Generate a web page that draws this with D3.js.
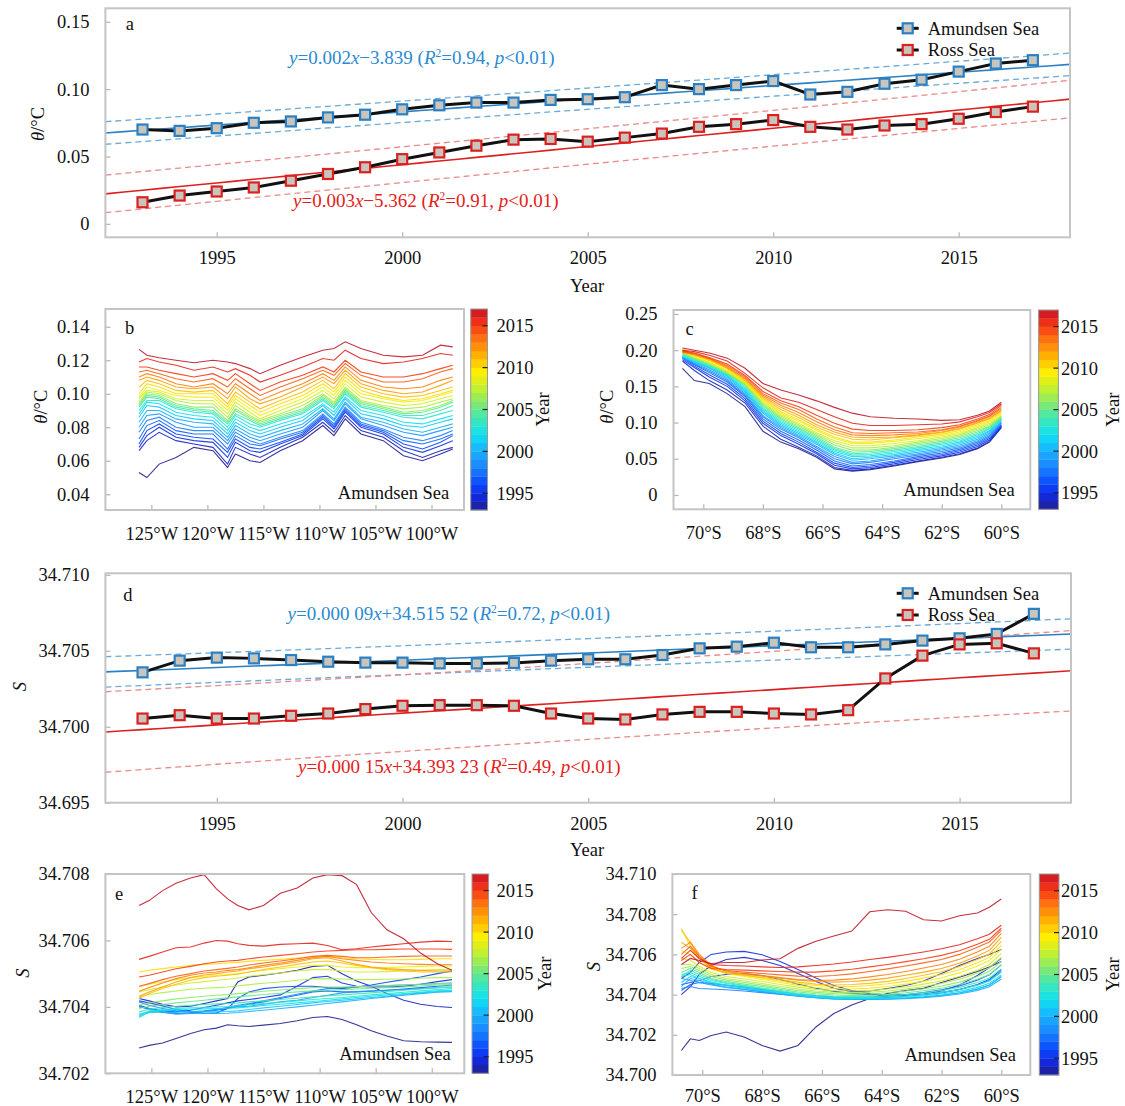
<!DOCTYPE html>
<html>
<head>
<meta charset="utf-8">
<script src="https://cdn.jsdelivr.net/npm/d3@7"></script>
<style>
  body { margin: 0; background: #fff; }
  svg text { font-family: "Liberation Serif", "Times New Roman", serif; }
</style>
</head>
<body>
<svg id="fig" width="1125" height="1106"></svg>
<script>
// ---------------- data ----------------
const years = [1993, 1994, 1995, 1996, 1997, 1998, 1999, 2000, 2001, 2002, 2003, 2004, 2005,
               2006, 2007, 2008, 2009, 2010, 2011, 2012, 2013, 2014, 2015, 2016, 2017];

// (a) annual mean potential temperature, °C
const amundsenTheta = [0.070, 0.069, 0.071, 0.075, 0.076, 0.079, 0.081, 0.085, 0.088, 0.090, 0.090, 0.092, 0.0925,
                       0.094, 0.103, 0.100, 0.103, 0.106, 0.096, 0.098, 0.104, 0.107, 0.113, 0.119, 0.1215];
const rossTheta     = [0.016, 0.021, 0.024, 0.027, 0.032, 0.037, 0.042, 0.048, 0.053, 0.058, 0.0625, 0.063, 0.061,
                       0.064, 0.067, 0.072, 0.074, 0.077, 0.072, 0.070, 0.073, 0.074, 0.078, 0.083, 0.087];

// (d) annual mean salinity
const amundsenSal = [34.70358, 34.70435, 34.70455, 34.70450, 34.70439, 34.70428, 34.70422, 34.70422, 34.70417, 34.70417,
                     34.70420, 34.70435, 34.70444, 34.70444, 34.70472, 34.70516, 34.70527, 34.70553, 34.70523, 34.70523,
                     34.70542, 34.70567, 34.70582, 34.70611, 34.70743];
const rossSal     = [34.70054, 34.70076, 34.70054, 34.70054, 34.70072, 34.70087, 34.70116, 34.70138, 34.70142, 34.70142,
                     34.70138, 34.70087, 34.70054, 34.70048, 34.70081, 34.70098, 34.70098, 34.70087, 34.70081, 34.70109,
                     34.70318, 34.70468, 34.70542, 34.70549, 34.70483];

// (b) theta along longitude (negative = °W), one row per year 1993..2017
const lonB = [-126.1, -125.4, -124.3, -122.8, -121.2, -119.5, -118.2, -117.5, -116.2, -115.3, -113.5,
              -111.5, -109.7, -108.7, -107.7, -106.3, -104.3, -102.5, -100.8, -99.2, -98.1];
const thetaByLon = [
  [0.053,0.050,0.058,0.062,0.068,0.066,0.056,0.064,0.060,0.059,0.066,0.072,0.081,0.075,0.085,0.076,0.072,0.063,0.060,0.064,0.067],
  [0.066,0.072,0.077,0.072,0.070,0.068,0.058,0.068,0.064,0.062,0.068,0.074,0.083,0.077,0.087,0.078,0.074,0.066,0.062,0.066,0.068],
  [0.068,0.075,0.080,0.074,0.072,0.071,0.062,0.071,0.066,0.065,0.070,0.075,0.085,0.079,0.089,0.080,0.076,0.068,0.065,0.069,0.072],
  [0.070,0.078,0.082,0.076,0.074,0.073,0.065,0.073,0.068,0.067,0.071,0.076,0.086,0.080,0.090,0.081,0.077,0.070,0.067,0.071,0.075],
  [0.073,0.081,0.084,0.078,0.076,0.076,0.067,0.075,0.070,0.069,0.073,0.077,0.087,0.081,0.091,0.082,0.078,0.072,0.070,0.073,0.076],
  [0.077,0.084,0.086,0.080,0.078,0.078,0.070,0.077,0.072,0.070,0.074,0.078,0.088,0.082,0.092,0.083,0.079,0.074,0.072,0.075,0.078],
  [0.080,0.087,0.088,0.083,0.080,0.080,0.072,0.079,0.074,0.072,0.076,0.080,0.090,0.084,0.094,0.085,0.081,0.077,0.075,0.078,0.080],
  [0.083,0.090,0.090,0.085,0.083,0.082,0.074,0.081,0.076,0.074,0.078,0.082,0.091,0.085,0.095,0.086,0.083,0.079,0.077,0.080,0.082],
  [0.086,0.093,0.092,0.087,0.085,0.084,0.076,0.083,0.078,0.076,0.080,0.084,0.093,0.087,0.097,0.088,0.085,0.081,0.080,0.083,0.085],
  [0.088,0.095,0.094,0.089,0.087,0.086,0.078,0.085,0.080,0.078,0.082,0.086,0.094,0.089,0.098,0.090,0.087,0.083,0.082,0.085,0.087],
  [0.090,0.096,0.096,0.091,0.089,0.088,0.080,0.087,0.082,0.080,0.084,0.088,0.096,0.091,0.100,0.092,0.089,0.086,0.085,0.088,0.090],
  [0.092,0.098,0.097,0.092,0.090,0.089,0.082,0.088,0.084,0.081,0.085,0.089,0.097,0.092,0.101,0.093,0.090,0.087,0.087,0.090,0.093],
  [0.093,0.099,0.098,0.093,0.091,0.090,0.083,0.090,0.085,0.082,0.086,0.090,0.098,0.093,0.102,0.094,0.091,0.088,0.089,0.092,0.095],
  [0.094,0.100,0.099,0.094,0.092,0.092,0.084,0.091,0.086,0.083,0.087,0.091,0.099,0.094,0.103,0.095,0.092,0.089,0.090,0.093,0.096],
  [0.095,0.101,0.100,0.096,0.094,0.094,0.086,0.093,0.087,0.084,0.088,0.093,0.100,0.095,0.104,0.096,0.093,0.091,0.092,0.095,0.097],
  [0.097,0.102,0.101,0.097,0.096,0.096,0.088,0.095,0.089,0.085,0.090,0.095,0.102,0.097,0.106,0.098,0.095,0.093,0.094,0.097,0.099],
  [0.098,0.104,0.102,0.099,0.098,0.098,0.090,0.097,0.091,0.087,0.092,0.097,0.104,0.099,0.108,0.100,0.097,0.095,0.096,0.099,0.101],
  [0.100,0.106,0.104,0.100,0.100,0.100,0.092,0.099,0.093,0.089,0.094,0.099,0.106,0.101,0.110,0.102,0.098,0.096,0.097,0.100,0.102],
  [0.104,0.108,0.106,0.102,0.101,0.102,0.094,0.101,0.095,0.091,0.096,0.101,0.108,0.103,0.112,0.104,0.100,0.098,0.099,0.102,0.104],
  [0.108,0.110,0.108,0.104,0.103,0.104,0.097,0.104,0.097,0.094,0.098,0.104,0.110,0.106,0.114,0.106,0.102,0.100,0.101,0.105,0.108],
  [0.110,0.112,0.110,0.106,0.104,0.106,0.100,0.106,0.100,0.096,0.101,0.106,0.112,0.108,0.116,0.108,0.104,0.103,0.104,0.108,0.110],
  [0.113,0.114,0.112,0.109,0.107,0.109,0.104,0.109,0.103,0.099,0.104,0.109,0.114,0.111,0.118,0.111,0.107,0.107,0.109,0.113,0.115],
  [0.116,0.116,0.114,0.112,0.110,0.112,0.108,0.112,0.106,0.102,0.107,0.111,0.116,0.113,0.120,0.113,0.110,0.110,0.112,0.115,0.117],
  [0.119,0.121,0.119,0.117,0.114,0.116,0.113,0.115,0.111,0.107,0.111,0.116,0.121,0.120,0.126,0.121,0.118,0.119,0.121,0.124,0.123],
  [0.1265,0.123,0.1215,0.120,0.1185,0.120,0.119,0.118,0.115,0.112,0.117,0.122,0.126,0.127,0.131,0.127,0.123,0.122,0.123,0.129,0.128]
];

// (c) theta along latitude (negative = °S), one row per year 1993..2017
const latC = [-70.7, -70.3, -69.8, -69.2, -68.6, -68.0, -67.4, -66.8, -66.2, -65.6, -65.0, -64.4,
              -63.6, -62.8, -62.0, -61.4, -60.8, -60.4, -60.0];
const thetaByLat = [
  [0.175,0.158,0.154,0.140,0.122,0.088,0.073,0.064,0.052,0.036,0.033,0.035,0.040,0.046,0.051,0.056,0.064,0.073,0.093],
  [0.185,0.172,0.158,0.145,0.127,0.095,0.077,0.066,0.054,0.038,0.034,0.036,0.041,0.047,0.052,0.057,0.065,0.074,0.094],
  [0.187,0.176,0.163,0.150,0.130,0.099,0.082,0.070,0.057,0.041,0.036,0.038,0.043,0.049,0.054,0.059,0.067,0.076,0.095],
  [0.189,0.178,0.166,0.153,0.133,0.102,0.085,0.073,0.059,0.044,0.038,0.040,0.045,0.051,0.056,0.061,0.069,0.078,0.096],
  [0.190,0.180,0.169,0.156,0.136,0.105,0.088,0.076,0.062,0.047,0.040,0.042,0.047,0.053,0.058,0.063,0.071,0.080,0.097],
  [0.191,0.181,0.171,0.158,0.138,0.108,0.091,0.079,0.065,0.050,0.043,0.045,0.050,0.055,0.060,0.065,0.073,0.082,0.099],
  [0.189,0.182,0.173,0.160,0.140,0.110,0.093,0.081,0.067,0.053,0.045,0.047,0.052,0.057,0.062,0.067,0.075,0.084,0.100],
  [0.190,0.183,0.175,0.162,0.142,0.113,0.095,0.083,0.070,0.056,0.048,0.050,0.054,0.059,0.064,0.069,0.077,0.086,0.101],
  [0.191,0.184,0.176,0.164,0.144,0.115,0.097,0.085,0.072,0.058,0.050,0.052,0.056,0.061,0.066,0.071,0.079,0.088,0.103],
  [0.192,0.185,0.177,0.165,0.146,0.117,0.099,0.087,0.074,0.060,0.053,0.054,0.058,0.063,0.068,0.073,0.081,0.089,0.104],
  [0.193,0.186,0.178,0.166,0.148,0.119,0.101,0.089,0.076,0.062,0.055,0.056,0.060,0.065,0.070,0.075,0.083,0.091,0.105],
  [0.194,0.187,0.179,0.167,0.150,0.121,0.103,0.091,0.078,0.064,0.057,0.058,0.062,0.067,0.072,0.077,0.085,0.092,0.106],
  [0.195,0.188,0.180,0.168,0.152,0.123,0.105,0.093,0.080,0.066,0.059,0.060,0.064,0.069,0.074,0.079,0.087,0.094,0.107],
  [0.196,0.189,0.181,0.169,0.153,0.125,0.107,0.095,0.082,0.069,0.062,0.062,0.066,0.071,0.076,0.081,0.089,0.095,0.108],
  [0.197,0.190,0.182,0.170,0.154,0.127,0.109,0.097,0.084,0.072,0.065,0.065,0.068,0.073,0.078,0.083,0.091,0.097,0.109],
  [0.198,0.191,0.183,0.171,0.155,0.129,0.111,0.099,0.086,0.075,0.068,0.068,0.071,0.075,0.080,0.085,0.093,0.099,0.110],
  [0.200,0.192,0.184,0.172,0.156,0.131,0.113,0.102,0.089,0.078,0.071,0.071,0.074,0.078,0.082,0.087,0.095,0.101,0.112],
  [0.202,0.194,0.186,0.174,0.157,0.132,0.115,0.104,0.091,0.080,0.073,0.073,0.076,0.080,0.084,0.089,0.097,0.103,0.114],
  [0.198,0.193,0.186,0.175,0.158,0.134,0.118,0.107,0.094,0.084,0.077,0.076,0.079,0.082,0.086,0.091,0.099,0.105,0.116],
  [0.200,0.195,0.188,0.176,0.160,0.136,0.121,0.110,0.097,0.087,0.080,0.079,0.080,0.083,0.087,0.092,0.100,0.106,0.117],
  [0.197,0.194,0.188,0.177,0.161,0.138,0.124,0.114,0.101,0.090,0.083,0.082,0.083,0.085,0.089,0.094,0.102,0.108,0.119],
  [0.198,0.195,0.189,0.179,0.163,0.140,0.127,0.118,0.105,0.094,0.086,0.085,0.086,0.087,0.090,0.095,0.103,0.109,0.121],
  [0.199,0.196,0.190,0.181,0.165,0.143,0.130,0.122,0.110,0.099,0.091,0.089,0.089,0.090,0.093,0.097,0.105,0.111,0.124],
  [0.200,0.198,0.193,0.185,0.168,0.148,0.134,0.128,0.118,0.108,0.099,0.096,0.096,0.097,0.098,0.101,0.108,0.114,0.126],
  [0.203,0.200,0.196,0.189,0.175,0.154,0.145,0.138,0.130,0.121,0.113,0.108,0.106,0.105,0.103,0.104,0.110,0.116,0.128]
];

// (e) salinity along longitude, one row per year 1993..2017
const lonE = [-126.1, -125.2, -124.0, -122.8, -121.5, -120.3, -119.2, -118.2, -117.3, -116.3, -115.0, -113.5,
              -112.0, -110.6, -109.3, -108.0, -106.7, -105.4, -104.0, -102.5, -101.0, -99.5, -98.2];
const salByLon = [
  [34.70276,34.70284,34.70291,34.70305,34.70320,34.70331,34.70336,34.70346,34.70343,34.70341,34.70345,34.70350,34.70358,34.70368,34.70371,34.70362,34.70346,34.70328,34.70312,34.70298,34.70295,34.70294,34.70293],
  [34.70425,34.70418,34.70408,34.70400,34.70402,34.70410,34.70418,34.70425,34.70475,34.70490,34.70495,34.70502,34.70510,34.70522,34.70525,34.70500,34.70478,34.70462,34.70440,34.70420,34.70408,34.70401,34.70398],
  [34.70405,34.70395,34.70388,34.70385,34.70390,34.70398,34.70405,34.70412,34.70418,34.70422,34.70428,34.70436,34.70462,34.70488,34.70492,34.70472,34.70462,34.70460,34.70460,34.70462,34.70468,34.70476,34.70482],
  [34.70418,34.70412,34.70403,34.70392,34.70385,34.70380,34.70382,34.70395,34.70425,34.70445,34.70455,34.70460,34.70462,34.70462,34.70458,34.70455,34.70460,34.70466,34.70474,34.70482,34.70490,34.70500,34.70508],
  [34.70402,34.70392,34.70383,34.70380,34.70382,34.70386,34.70390,34.70395,34.70402,34.70408,34.70415,34.70425,34.70435,34.70445,34.70448,34.70445,34.70445,34.70447,34.70450,34.70454,34.70458,34.70462,34.70466],
  [34.70415,34.70405,34.70395,34.70388,34.70385,34.70388,34.70392,34.70398,34.70405,34.70410,34.70418,34.70428,34.70438,34.70448,34.70455,34.70458,34.70460,34.70462,34.70464,34.70466,34.70468,34.70470,34.70472],
  [34.70400,34.70395,34.70385,34.70378,34.70380,34.70385,34.70392,34.70398,34.70400,34.70402,34.70408,34.70415,34.70420,34.70428,34.70435,34.70442,34.70446,34.70448,34.70450,34.70452,34.70455,34.70458,34.70460],
  [34.70378,34.70385,34.70384,34.70382,34.70381,34.70380,34.70380,34.70381,34.70383,34.70386,34.70390,34.70395,34.70400,34.70405,34.70410,34.70415,34.70420,34.70425,34.70430,34.70435,34.70440,34.70444,34.70446],
  [34.70372,34.70383,34.70388,34.70388,34.70386,34.70385,34.70385,34.70386,34.70388,34.70392,34.70397,34.70402,34.70407,34.70412,34.70416,34.70420,34.70424,34.70428,34.70432,34.70437,34.70442,34.70446,34.70448],
  [34.70368,34.70385,34.70390,34.70392,34.70393,34.70394,34.70395,34.70396,34.70397,34.70400,34.70404,34.70408,34.70412,34.70416,34.70420,34.70424,34.70428,34.70432,34.70436,34.70440,34.70444,34.70448,34.70450],
  [34.70375,34.70388,34.70392,34.70395,34.70397,34.70398,34.70400,34.70401,34.70403,34.70406,34.70410,34.70414,34.70418,34.70422,34.70425,34.70428,34.70432,34.70436,34.70440,34.70444,34.70448,34.70452,34.70455],
  [34.70385,34.70393,34.70398,34.70402,34.70405,34.70407,34.70409,34.70410,34.70412,34.70415,34.70418,34.70422,34.70426,34.70430,34.70433,34.70436,34.70439,34.70442,34.70446,34.70450,34.70454,34.70458,34.70460],
  [34.70395,34.70402,34.70407,34.70412,34.70416,34.70420,34.70424,34.70427,34.70430,34.70433,34.70437,34.70441,34.70445,34.70448,34.70450,34.70452,34.70454,34.70456,34.70458,34.70460,34.70463,34.70466,34.70467],
  [34.70405,34.70412,34.70418,34.70424,34.70428,34.70432,34.70435,34.70437,34.70440,34.70443,34.70447,34.70451,34.70455,34.70458,34.70460,34.70460,34.70461,34.70462,34.70464,34.70466,34.70468,34.70470,34.70470],
  [34.70430,34.70437,34.70443,34.70448,34.70453,34.70456,34.70458,34.70460,34.70463,34.70467,34.70471,34.70475,34.70480,34.70484,34.70485,34.70484,34.70482,34.70482,34.70483,34.70484,34.70486,34.70488,34.70488],
  [34.70445,34.70452,34.70460,34.70466,34.70472,34.70476,34.70480,34.70483,34.70487,34.70492,34.70497,34.70502,34.70508,34.70512,34.70512,34.70508,34.70505,34.70505,34.70506,34.70508,34.70510,34.70512,34.70512],
  [34.70460,34.70468,34.70475,34.70482,34.70488,34.70492,34.70495,34.70497,34.70500,34.70505,34.70510,34.70515,34.70520,34.70525,34.70525,34.70520,34.70518,34.70518,34.70518,34.70520,34.70522,34.70523,34.70523],
  [34.70505,34.70510,34.70515,34.70520,34.70525,34.70528,34.70530,34.70532,34.70534,34.70537,34.70540,34.70543,34.70547,34.70550,34.70552,34.70548,34.70545,34.70543,34.70542,34.70542,34.70543,34.70545,34.70545],
  [34.70425,34.70440,34.70455,34.70468,34.70480,34.70488,34.70492,34.70495,34.70498,34.70505,34.70512,34.70520,34.70528,34.70535,34.70538,34.70532,34.70525,34.70518,34.70512,34.70508,34.70505,34.70505,34.70505],
  [34.70432,34.70445,34.70460,34.70475,34.70488,34.70496,34.70500,34.70505,34.70508,34.70515,34.70520,34.70528,34.70535,34.70545,34.70548,34.70538,34.70528,34.70520,34.70515,34.70512,34.70510,34.70508,34.70508],
  [34.70447,34.70458,34.70472,34.70485,34.70495,34.70502,34.70505,34.70510,34.70512,34.70518,34.70525,34.70532,34.70540,34.70548,34.70552,34.70545,34.70540,34.70535,34.70532,34.70530,34.70528,34.70527,34.70527],
  [34.70462,34.70470,34.70482,34.70492,34.70500,34.70508,34.70512,34.70516,34.70520,34.70526,34.70532,34.70538,34.70545,34.70552,34.70555,34.70552,34.70548,34.70548,34.70550,34.70552,34.70553,34.70553,34.70553],
  [34.70490,34.70495,34.70505,34.70515,34.70522,34.70530,34.70535,34.70538,34.70540,34.70545,34.70550,34.70555,34.70560,34.70565,34.70568,34.70570,34.70572,34.70572,34.70573,34.70574,34.70574,34.70574,34.70573],
  [34.70543,34.70552,34.70565,34.70578,34.70580,34.70592,34.70600,34.70598,34.70590,34.70585,34.70583,34.70588,34.70590,34.70592,34.70585,34.70572,34.70575,34.70580,34.70585,34.70590,34.70595,34.70598,34.70597],
  [34.70705,34.70720,34.70750,34.70772,34.70788,34.70798,34.70755,34.70725,34.70705,34.70692,34.70705,34.70742,34.70758,34.70788,34.70798,34.70795,34.70768,34.70684,34.70632,34.70605,34.70562,34.70530,34.70510]
];

// (f) salinity along latitude, one row per year 1993..2017
const latF = [-70.7, -70.4, -70.1, -69.7, -69.2, -68.6, -68.0, -67.4, -66.8, -66.2, -65.6, -65.0,
              -64.4, -63.8, -63.2, -62.6, -62.0, -61.4, -60.8, -60.4, -60.0];
const salByLat = [
  [34.70122,34.70180,34.70172,34.70197,34.70214,34.70189,34.70147,34.70119,34.70147,34.70239,34.70306,34.70348,34.70381,34.70406,34.70420,34.70431,34.70460,34.70487,34.70515,34.70537,34.70565],
  [34.70400,34.70440,34.70500,34.70545,34.70575,34.70585,34.70570,34.70545,34.70505,34.70465,34.70432,34.70415,34.70418,34.70430,34.70445,34.70468,34.70505,34.70545,34.70580,34.70600,34.70624],
  [34.70480,34.70510,34.70560,34.70600,34.70612,34.70615,34.70598,34.70565,34.70525,34.70482,34.70445,34.70420,34.70405,34.70398,34.70396,34.70402,34.70418,34.70448,34.70495,34.70535,34.70580],
  [34.70450,34.70460,34.70470,34.70490,34.70500,34.70505,34.70495,34.70475,34.70452,34.70432,34.70416,34.70406,34.70400,34.70398,34.70398,34.70402,34.70410,34.70425,34.70450,34.70475,34.70525],
  [34.70420,34.70450,34.70460,34.70455,34.70448,34.70438,34.70426,34.70414,34.70402,34.70394,34.70388,34.70386,34.70387,34.70392,34.70400,34.70410,34.70424,34.70443,34.70472,34.70498,34.70548],
  [34.70430,34.70440,34.70430,34.70428,34.70424,34.70418,34.70410,34.70402,34.70395,34.70388,34.70384,34.70382,34.70383,34.70386,34.70392,34.70400,34.70410,34.70425,34.70448,34.70470,34.70515],
  [34.70480,34.70470,34.70460,34.70448,34.70435,34.70425,34.70414,34.70402,34.70392,34.70384,34.70378,34.70376,34.70376,34.70378,34.70382,34.70388,34.70396,34.70408,34.70428,34.70448,34.70490],
  [34.70440,34.70480,34.70470,34.70452,34.70438,34.70427,34.70416,34.70404,34.70393,34.70384,34.70378,34.70376,34.70376,34.70377,34.70380,34.70385,34.70392,34.70403,34.70421,34.70439,34.70478],
  [34.70460,34.70490,34.70480,34.70458,34.70444,34.70432,34.70420,34.70407,34.70395,34.70386,34.70380,34.70378,34.70378,34.70380,34.70383,34.70389,34.70397,34.70409,34.70428,34.70447,34.70488],
  [34.70490,34.70500,34.70480,34.70462,34.70448,34.70436,34.70423,34.70410,34.70398,34.70389,34.70383,34.70381,34.70381,34.70383,34.70387,34.70394,34.70403,34.70416,34.70436,34.70456,34.70498],
  [34.70500,34.70510,34.70490,34.70470,34.70455,34.70442,34.70428,34.70415,34.70402,34.70393,34.70387,34.70385,34.70385,34.70388,34.70393,34.70401,34.70411,34.70425,34.70447,34.70468,34.70512],
  [34.70490,34.70520,34.70500,34.70475,34.70460,34.70446,34.70433,34.70420,34.70407,34.70398,34.70392,34.70390,34.70390,34.70394,34.70400,34.70409,34.70420,34.70436,34.70460,34.70483,34.70528],
  [34.70510,34.70530,34.70510,34.70480,34.70465,34.70452,34.70440,34.70426,34.70413,34.70404,34.70398,34.70396,34.70397,34.70401,34.70409,34.70419,34.70432,34.70450,34.70476,34.70500,34.70548],
  [34.70530,34.70540,34.70520,34.70490,34.70472,34.70460,34.70447,34.70433,34.70420,34.70411,34.70405,34.70403,34.70404,34.70409,34.70418,34.70429,34.70443,34.70462,34.70490,34.70516,34.70565],
  [34.70550,34.70550,34.70530,34.70500,34.70480,34.70468,34.70455,34.70440,34.70428,34.70418,34.70412,34.70410,34.70412,34.70418,34.70428,34.70440,34.70455,34.70476,34.70506,34.70534,34.70585],
  [34.70580,34.70570,34.70540,34.70510,34.70490,34.70478,34.70465,34.70450,34.70437,34.70426,34.70420,34.70418,34.70420,34.70428,34.70438,34.70452,34.70468,34.70490,34.70522,34.70550,34.70605],
  [34.70620,34.70600,34.70560,34.70525,34.70505,34.70490,34.70475,34.70460,34.70446,34.70435,34.70430,34.70428,34.70432,34.70440,34.70452,34.70466,34.70484,34.70508,34.70542,34.70570,34.70625],
  [34.70730,34.70640,34.70580,34.70540,34.70520,34.70498,34.70482,34.70468,34.70455,34.70445,34.70440,34.70440,34.70445,34.70454,34.70466,34.70482,34.70500,34.70524,34.70558,34.70585,34.70645],
  [34.70720,34.70660,34.70590,34.70535,34.70505,34.70495,34.70485,34.70474,34.70462,34.70452,34.70448,34.70450,34.70456,34.70466,34.70480,34.70496,34.70514,34.70540,34.70575,34.70602,34.70665],
  [34.70660,34.70630,34.70580,34.70530,34.70510,34.70500,34.70492,34.70482,34.70472,34.70465,34.70462,34.70465,34.70472,34.70482,34.70496,34.70512,34.70530,34.70556,34.70592,34.70620,34.70685],
  [34.70630,34.70660,34.70600,34.70545,34.70515,34.70505,34.70495,34.70485,34.70475,34.70470,34.70472,34.70478,34.70488,34.70500,34.70515,34.70532,34.70550,34.70576,34.70612,34.70640,34.70705],
  [34.70600,34.70640,34.70590,34.70540,34.70520,34.70512,34.70505,34.70498,34.70492,34.70490,34.70495,34.70503,34.70515,34.70528,34.70542,34.70558,34.70575,34.70600,34.70635,34.70662,34.70720],
  [34.70570,34.70600,34.70560,34.70530,34.70525,34.70522,34.70518,34.70515,34.70512,34.70512,34.70518,34.70526,34.70538,34.70550,34.70564,34.70578,34.70595,34.70618,34.70650,34.70675,34.70730],
  [34.70580,34.70620,34.70580,34.70550,34.70545,34.70542,34.70538,34.70535,34.70538,34.70545,34.70552,34.70562,34.70575,34.70585,34.70598,34.70612,34.70628,34.70648,34.70678,34.70700,34.70745],
  [34.70550,34.70580,34.70570,34.70555,34.70560,34.70560,34.70572,34.70578,34.70630,34.70665,34.70692,34.70716,34.70812,34.70822,34.70815,34.70772,34.70766,34.70792,34.70806,34.70835,34.70876]
];

// tick values
const yearTicks   = [1995, 2000, 2005, 2010, 2015];
const thetaTicksA = [0, 0.05, 0.10, 0.15];
const salTicksD   = [34.695, 34.700, 34.705, 34.710];
const thetaTicksB = [0.04, 0.06, 0.08, 0.10, 0.12, 0.14];
const thetaTicksC = [0, 0.05, 0.10, 0.15, 0.20, 0.25];
const salTicksE   = [34.702, 34.704, 34.706, 34.708];
const salTicksF   = [34.700, 34.702, 34.704, 34.706, 34.708, 34.710];
const lonTicks    = [-125, -120, -115, -110, -105, -100];
const latTicks    = [-70, -68, -66, -64, -62, -60];
const barTicks    = [1995, 2000, 2005, 2010, 2015];

// ---------------- styling ----------------
const FS = 18.5, EQ_FS = 19;
const BLUE = "#2a80c2", BLUE_TXT = "#2b8ad2", BLUE_DASH = "#6aa9d8";
const RED = "#dc2020", RED_TXT = "#e4211c", RED_DASH = "#e98a8a";
const MARK_FILL = "#c9c5bd";

// jet-like year palette
const yearColor = d3.scaleLinear()
  .domain([1993, 1994.5, 1996, 1998, 2000, 2002, 2004, 2005.5, 2007.5, 2009.5, 2011.5, 2013.5, 2015, 2016.2, 2017])
  .range(["#20208f", "#1428d8", "#0a46ff", "#1a82ff", "#18b0ff", "#10e0f0", "#40e8b4", "#78e878",
          "#c0f030", "#ffee00", "#ffb000", "#ff7010", "#f83c14", "#e02020", "#c01828"])
  .interpolate(d3.interpolateRgb);

const svg = d3.select("#fig");
const fmt2 = d => d === 0 ? "0" : d3.format(".2f")(d);
const fmt3 = d3.format(".3f");

function frame(box) {
  svg.append("rect")
    .attr("x", box.x0).attr("y", box.y0)
    .attr("width", box.x1 - box.x0).attr("height", box.y1 - box.y0)
    .attr("fill", "none").attr("stroke", "#c4c4c4").attr("stroke-width", 2);
}

function axes(box, x, y, xt, xf, yt, yf, xpad) {
  const gx = svg.append("g").attr("transform", `translate(0,${box.y1})`)
    .call(d3.axisBottom(x).tickValues(xt).tickFormat(xf).tickSizeInner(-5).tickSizeOuter(0).tickPadding(xpad));
  const gy = svg.append("g").attr("transform", `translate(${box.x0},0)`)
    .call(d3.axisLeft(y).tickValues(yt).tickFormat(yf).tickSizeInner(-5).tickSizeOuter(0).tickPadding(16));
  [gx, gy].forEach(g => {
    g.select(".domain").remove();
    g.attr("font-family", null).attr("font-size", FS);
    g.selectAll("line").attr("stroke", "#b4b4b4").attr("stroke-width", 1.2);
    g.selectAll("text").attr("fill", "#111");
  });
}

function label(x, y, txt, anchor = "start", size = FS) {
  return svg.append("text").attr("x", x).attr("y", y).attr("dy", "0.35em")
    .attr("text-anchor", anchor).attr("font-size", size).attr("fill", "#111").text(txt);
}

function yTitle(x, y, parts) {
  const t = svg.append("text").attr("transform", `translate(${x},${y}) rotate(-90)`)
    .attr("dy", "0.35em").attr("text-anchor", "middle").attr("font-size", FS).attr("fill", "#111");
  parts.forEach(([s, it]) => t.append("tspan").attr("font-style", it ? "italic" : null).text(s));
}

function rich(x, y, parts, color) {
  const t = svg.append("text").attr("x", x).attr("y", y).attr("dy", "0.35em")
    .attr("font-size", EQ_FS).attr("fill", color);
  parts.forEach(([s, kind]) => {
    const sp = t.append("tspan").text(s);
    if (kind === "i") sp.attr("font-style", "italic");
    if (kind === "sup") sp.attr("font-size", 11.5).attr("dy", -7);
    if (kind === "down") sp.attr("dy", 7);
  });
}

function clip(id, box) {
  svg.append("clipPath").attr("id", id).append("rect")
    .attr("x", box.x0).attr("y", box.y0).attr("width", box.x1 - box.x0).attr("height", box.y1 - box.y0);
}

// least squares fit with 95 % prediction band
function fitLine(xs, ys) {
  const n = xs.length, mx = d3.mean(xs), my = d3.mean(ys);
  let sxx = 0, sxy = 0;
  xs.forEach((x, i) => { sxx += (x - mx) ** 2; sxy += (x - mx) * (ys[i] - my); });
  const b = sxy / sxx, a = my - b * mx;
  let sse = 0;
  xs.forEach((x, i) => { sse += (ys[i] - (a + b * x)) ** 2; });
  const s = Math.sqrt(sse / (n - 2)), t = 2.069;
  return {
    f: x => a + b * x,
    half: x => t * s * Math.sqrt(1 + 1 / n + (x - mx) ** 2 / sxx)
  };
}

function seriesPanel(box, x, y, sets) {
  const xs = d3.range(x.domain()[0], x.domain()[1] + 0.001, 0.5);
  sets.forEach(set => {
    const fit = fitLine(years, set.values);
    const line = d3.line().x(d => x(d[0])).y(d => y(d[1]));
    [1, -1].forEach(sg => {
      svg.append("path").datum(xs.map(v => [v, fit.f(v) + sg * fit.half(v)]))
        .attr("d", line).attr("fill", "none").attr("stroke", set.dash)
        .attr("stroke-width", 1.3).attr("stroke-dasharray", "6,4");
    });
    svg.append("path").datum(xs.map(v => [v, fit.f(v)]))
      .attr("d", line).attr("fill", "none").attr("stroke", set.color).attr("stroke-width", 1.6);
  });
  sets.forEach(set => {
    svg.append("path").datum(set.values)
      .attr("d", d3.line().x((d, i) => x(years[i])).y(d => y(d)))
      .attr("fill", "none").attr("stroke", "#111").attr("stroke-width", 3);
    svg.append("g").selectAll("rect").data(set.values).join("rect")
      .attr("x", (d, i) => x(years[i]) - 5).attr("y", d => y(d) - 5)
      .attr("width", 10).attr("height", 10)
      .attr("fill", MARK_FILL).attr("stroke", set.color).attr("stroke-width", 2.2);
  });
}

function legend(x, y, items) {
  items.forEach((it, k) => {
    const cy = y + k * 21.7;
    svg.append("line").attr("x1", x - 11).attr("x2", x + 11).attr("y1", cy).attr("y2", cy)
      .attr("stroke", "#111").attr("stroke-width", 3);
    svg.append("rect").attr("x", x - 5).attr("y", cy - 5).attr("width", 10).attr("height", 10)
      .attr("fill", MARK_FILL).attr("stroke", it.color).attr("stroke-width", 2.2);
    label(x + 20, cy, it.name);
  });
}

function profilePanel(id, box, x, y, xs, rows) {
  clip(id, box);
  const g = svg.append("g").attr("clip-path", `url(#${id})`);
  rows.forEach((row, i) => {
    g.append("path").datum(row)
      .attr("d", d3.line().x((d, j) => x(xs[j])).y(d => y(d)))
      .attr("fill", "none").attr("stroke", yearColor(years[i])).attr("stroke-width", 1.1)
      .attr("stroke-opacity", 0.9);
  });
}

function colorbar(bx0, bx1, by0, by1, labelX, titleX) {
  const yc = d3.scaleLinear().domain([1993, 2017]).range([by1, by0]);
  for (let k = 1993; k < 2017; k++) {
    svg.append("rect").attr("x", bx0).attr("width", bx1 - bx0)
      .attr("y", yc(k + 1)).attr("height", yc(k) - yc(k + 1) + 0.3)
      .attr("fill", yearColor(k + 0.5));
  }
  svg.append("rect").attr("x", bx0).attr("y", by0).attr("width", bx1 - bx0).attr("height", by1 - by0)
    .attr("fill", "none").attr("stroke", "#9a9a9a").attr("stroke-width", 1);
  barTicks.forEach(t => {
    svg.append("line").attr("x1", bx1 - 5).attr("x2", bx1).attr("y1", yc(t)).attr("y2", yc(t))
      .attr("stroke", "#222").attr("stroke-width", 1.2);
    label(labelX, yc(t), String(t));
  });
  svg.append("text").attr("transform", `translate(${titleX},${(by0 + by1) / 2}) rotate(-90)`)
    .attr("dy", "0.35em").attr("text-anchor", "middle").attr("font-size", FS).attr("fill", "#111").text("Year");
}

const lonFmt = d => `${-d}°W`;
const latFmt = d => `${-d}°S`;

// ---------------- (a) ----------------
const boxA = { x0: 105.4, x1: 1070, y0: 8.3, y1: 237.3 };
const xA = d3.scaleLinear().domain([1992, 2018]).range([boxA.x0, boxA.x1]);
const yA = d3.scaleLinear().domain([-0.01, 0.16]).range([boxA.y1, boxA.y0]);
axes(boxA, xA, yA, yearTicks, d3.format("d"), thetaTicksA, fmt2, 14);
seriesPanel(boxA, xA, yA, [
  { values: amundsenTheta, color: BLUE, dash: BLUE_DASH },
  { values: rossTheta, color: RED, dash: RED_DASH }
]);
frame(boxA);
label(125.7, 23.3, "a");
rich(289, 57.3, [["y","i"],["=0.002"],["x","i"],["\u22123.839 ("],["R","i"],["2","sup"],["=0.94, ","down"],["p","i"],["<0.01)"]], BLUE_TXT);
rich(293, 200, [["y","i"],["=0.003"],["x","i"],["\u22125.362 ("],["R","i"],["2","sup"],["=0.91, ","down"],["p","i"],["<0.01)"]], RED_TXT);
legend(907.7, 28.3, [{ name: "Amundsen Sea", color: BLUE }, { name: "Ross Sea", color: RED }]);
label(587, 286, "Year", "middle");
yTitle(37.5, 124, [["\u03b8", true], ["/°C", false]]);

// ---------------- (b) ----------------
const boxB = { x0: 105.4, x1: 464, y0: 309, y1: 510 };
const xB = d3.scaleLinear().domain([-129.1, -97.1]).range([boxB.x0, boxB.x1]);
const yB = d3.scaleLinear().domain([0.0306, 0.1506]).range([boxB.y1, boxB.y0]);
axes(boxB, xB, yB, lonTicks, lonFmt, thetaTicksB, d3.format(".2f"), 16.5);
profilePanel("clipB", boxB, xB, yB, lonB, thetaByLon);
frame(boxB);
label(125, 328, "b");
label(449.3, 492.3, "Amundsen Sea", "end");
yTitle(41, 406.7, [["\u03b8", true], ["/°C", false]]);
colorbar(470.7, 487.5, 309, 510, 496.4, 543);

// ---------------- (c) ----------------
const boxC = { x0: 673.5, x1: 1030.3, y0: 310, y1: 509.3 };
const xC = d3.scaleLinear().domain([-71, -59.03]).range([boxC.x0, boxC.x1]);
const yC = d3.scaleLinear().domain([-0.0198, 0.2555]).range([boxC.y1, boxC.y0]);
axes(boxC, xC, yC, latTicks, latFmt, thetaTicksC, fmt2, 16.5);
profilePanel("clipC", boxC, xC, yC, latC, thetaByLat);
frame(boxC);
label(685.4, 328.3, "c");
label(1014.8, 490, "Amundsen Sea", "end");
yTitle(607, 406.7, [["\u03b8", true], ["/°C", false]]);
colorbar(1038.6, 1058.4, 310, 509.3, 1061, 1113);

// ---------------- (d) ----------------
const boxD = { x0: 105.4, x1: 1071, y0: 573.3, y1: 802.7 };
const xD = d3.scaleLinear().domain([1992, 2018]).range([boxD.x0, boxD.x1]);
const yD = d3.scaleLinear().domain([34.695, 34.7101]).range([boxD.y1, boxD.y0]);
axes(boxD, xD, yD, yearTicks, d3.format("d"), salTicksD, fmt3, 14);
seriesPanel(boxD, xD, yD, [
  { values: amundsenSal, color: BLUE, dash: BLUE_DASH },
  { values: rossSal, color: RED, dash: RED_DASH }
]);
frame(boxD);
label(123.2, 595, "d");
rich(287.5, 613.3, [["y","i"],["=0.000 09"],["x","i"],["+34.515 52 ("],["R","i"],["2","sup"],["=0.72, ","down"],["p","i"],["<0.01)"]], BLUE_TXT);
rich(298, 766.7, [["y","i"],["=0.000 15"],["x","i"],["+34.393 23 ("],["R","i"],["2","sup"],["=0.49, ","down"],["p","i"],["<0.01)"]], RED_TXT);
legend(907.7, 593.3, [{ name: "Amundsen Sea", color: BLUE }, { name: "Ross Sea", color: RED }]);
label(587, 850, "Year", "middle");
yTitle(20, 686.7, [["S", true]]);

// ---------------- (e) ----------------
const boxE = { x0: 105.4, x1: 464.3, y0: 874, y1: 1073.3 };
const xE = d3.scaleLinear().domain([-129.1, -97.1]).range([boxE.x0, boxE.x1]);
const yE = d3.scaleLinear().domain([34.702, 34.708]).range([boxE.y1, boxE.y0]);
axes(boxE, xE, yE, lonTicks, lonFmt, salTicksE, fmt3, 16.5);
profilePanel("clipE", boxE, xE, yE, lonE, salByLon);
frame(boxE);
label(115, 893.3, "e");
label(450.7, 1053.3, "Amundsen Sea", "end");
yTitle(23, 973, [["S", true]]);
colorbar(472, 488.6, 874, 1073.3, 496.4, 544.6);

// ---------------- (f) ----------------
const boxF = { x0: 672.4, x1: 1030.3, y0: 874, y1: 1075 };
const xF = d3.scaleLinear().domain([-71, -59.03]).range([boxF.x0, boxF.x1]);
const yF = d3.scaleLinear().domain([34.700, 34.710]).range([boxF.y1, boxF.y0]);
axes(boxF, xF, yF, latTicks, latFmt, salTicksF, fmt3, 13.5);
profilePanel("clipF", boxF, xF, yF, latF, salByLat);
frame(boxF);
label(691.5, 893, "f");
label(1015.9, 1054.3, "Amundsen Sea", "end");
yTitle(594, 966.7, [["S", true]]);
colorbar(1039.3, 1059, 874, 1075, 1061, 1113);
</script>
</body>
</html>
